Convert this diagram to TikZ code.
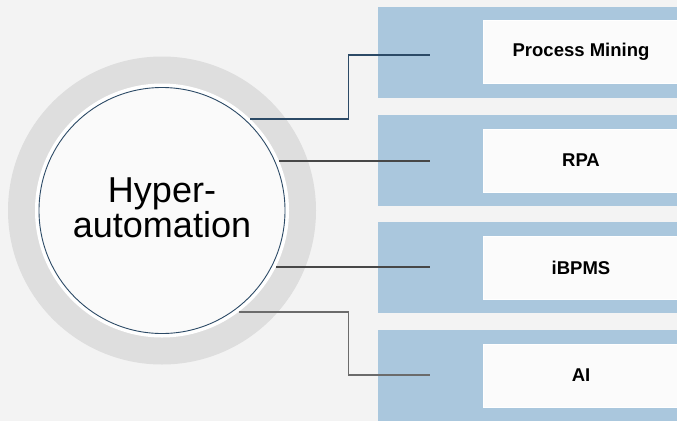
\documentclass[tikz,border=0pt]{standalone}
\usepackage{fontspec}
\setmainfont{Liberation Sans}
\usepackage{xcolor}
\usepackage{tikz}

\definecolor{bgcol}{HTML}{F3F3F3}
\definecolor{ringcol}{HTML}{DEDEDE}
\definecolor{hubcol}{HTML}{FAFAFA}
\definecolor{hubline}{HTML}{2C4A66}
\definecolor{bandcol}{HTML}{AAC7DD}
\definecolor{boxcol}{HTML}{FBFBFB}

\tikzset{
  band/.style={fill=bandcol, draw=none},
  techbox/.style={rectangle, fill=boxcol, draw=white, line width=0.8pt,
    minimum width=196pt, minimum height=63pt, inner sep=0pt,
    font=\fontsize{18.5}{20}\selectfont\bfseries, text=black},
  link/.style={line width=1.4pt}
}

\begin{document}
\begin{tikzpicture}[x=1pt, y=-1pt]
\useasboundingbox (0,0) rectangle (677,421);
\fill[bgcol] (0,0) rectangle (677,421);

% draw the rings
\fill[ringcol] (162,210.5) circle (154);
\node[circle, fill=white, minimum size=254pt, inner sep=0pt] (ring) at (162,210.5) {};
\node[circle, fill=hubcol, draw=hubline, line width=0.9pt, minimum size=246pt,
  inner sep=0pt] (hub) at (162,210.5) {};
\node[align=center, font=\fontsize{36}{35}\selectfont] (hubtext) at (162,207.5)
  {Hyper-\\automation};

% draw the bands
\fill[band] (378,7) rectangle (677,98);
\fill[band] (378,115) rectangle (677,206);
\fill[band] (378,222) rectangle (677,313);
\fill[band] (378,330) rectangle (677,421);

% draw the boxes
\node[techbox] (pm) at (581,51.5) {Process Mining};
\node[techbox] (rpa) at (581,160.5) {RPA};
\node[techbox] (bpms) at (581,267.5) {iBPMS};
\node[techbox] (ai) at (581,375.5) {AI};

% ends of the links
\node[coordinate] (t1) at (430,55) {};
\node[coordinate] (t2) at (430,161) {};
\node[coordinate] (t3) at (430,267) {};
\node[coordinate] (t4) at (430,375) {};

% draw the links
\draw[link, draw=hubline] (ring.46) -- ++(98,0) |- (t1);
\draw[link, draw=black!72] (ring.23 |- t2) -- (t2);
\draw[link, draw=black!72] (ring.-26 |- t3) -- (t3);
\draw[link, draw=black!58] (ring.-53) -- ++(110,0) |- (t4);

\end{tikzpicture}
\end{document}
